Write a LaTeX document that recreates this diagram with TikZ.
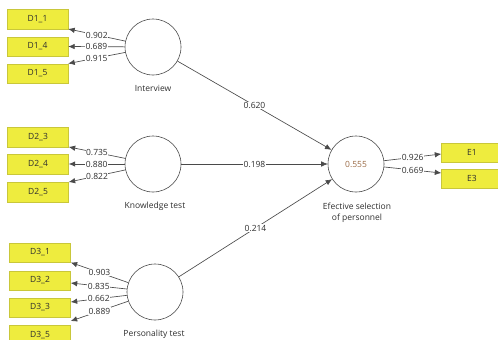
\documentclass[tikz,border=0pt]{standalone}
\usepackage{fontspec}
\setmainfont{Open Sans}
\usepackage{xcolor}
\usetikzlibrary{arrows.meta}
\definecolor{itemyellow}{HTML}{EEEC3E}
\definecolor{itemedge}{HTML}{C9C73A}
\definecolor{linegray}{HTML}{4A4A4A}
\definecolor{textgray}{HTML}{2E2E2E}
\definecolor{rbrown}{HTML}{9A6A45}

\begin{document}
\begin{tikzpicture}[x=1pt,y=-1pt,
    every node/.style={font=\fontsize{8.5}{10}\selectfont,text=textgray},
    item/.style={draw=itemedge,fill=itemyellow,minimum width=61pt,minimum height=19.5pt,inner sep=0pt},
    latent/.style={draw=linegray,circle,minimum size=56pt,inner sep=0pt,line width=0.6pt},
    load/.style={fill=white,inner sep=0.6pt,pos=0.5},
    arr/.style={draw=linegray,line width=0.65pt,-{Latex[length=6.5pt,width=5.5pt]}}]
  \useasboundingbox (0,0) rectangle (498,340);
  % latent variables
  \node[latent] (iv) at (153,47) {};
  \node[latent] (kt) at (153,164) {};
  \node[latent] (pt) at (155,292) {};
  \node[latent] (es) at (356,164) {};
  \node[text=rbrown] at (es) {0.555};
  \node (ivl) at (153,88) {Interview};
  \node (ktl) at (155,206) {Knowledge test};
  \node (ptl) at (154,334) {Personality test};
  \node[align=center] (esl) at (357,213) {Efective selection\\[1pt]of personnel};
  % indicators
  \node[item] (d11) at (37.5,19) {D1\_1};
  \node[item] (d14) at (37.5,46.5) {D1\_4};
  \node[item] (d15) at (37.5,73.5) {D1\_5};
  \node[item] (d23) at (38,137) {D2\_3};
  \node[item] (d24) at (38,164) {D2\_4};
  \node[item] (d25) at (38,192) {D2\_5};
  \node[item] (d31) at (40,252.5) {D3\_1};
  \node[item] (d32) at (40,280.5) {D3\_2};
  \node[item] (d33) at (40,307.5) {D3\_3};
  \node[item] (d35) at (40,335) {D3\_5};
  \node[item] (e1) at (472,152.5) {E1};
  \node[item] (e3) at (472,178.5) {E3};
  % outer loadings
  \draw[arr] (iv) -- node[load] {0.902} (d11.south east);
  \draw[arr] (iv) -- node[load] {0.689} (d14.east);
  \draw[arr] (iv) -- node[load] {0.915} (d15.north east);
  \draw[arr] (kt) -- node[load] {0.735} (d23.south east);
  \draw[arr] (kt) -- node[load] {0.880} (d24.east);
  \draw[arr] (kt) -- node[load] {0.822} (d25.north east);
  \draw[arr] (pt) -- node[load] {0.903} (d31.south east);
  \draw[arr] (pt) -- node[load] {0.835} ([yshift=-2.5pt]d32.east);
  \draw[arr] (pt) -- node[load] {0.662} ([yshift=5.5pt]d33.east);
  \draw[arr] (pt) -- node[load] {0.889} ([yshift=4pt]d35.north east);
  \draw[arr] (es) -- node[load] {0.926} ([yshift=-1.5pt]e1.west);
  \draw[arr] (es) -- node[load] {0.669} ([yshift=5.5pt]e3.west);
  % path coefficients
  \draw[arr] (iv) -- node[load] {0.620} (es);
  \draw[arr] (kt) -- node[load] {0.198} (es);
  \draw[arr] (pt) -- node[load] {0.214} (es);
\end{tikzpicture}
\end{document}
